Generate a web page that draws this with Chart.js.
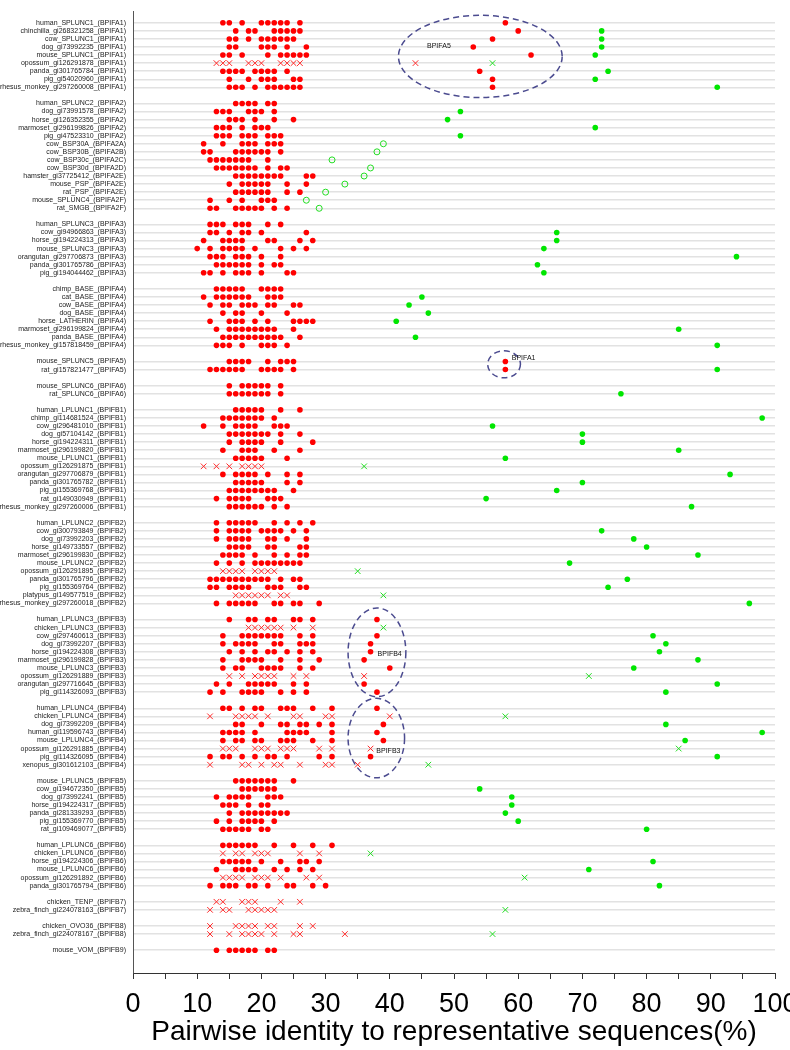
<!DOCTYPE html>
<html><head><meta charset="utf-8">
<script src="https://cdn.jsdelivr.net/npm/chart.js@4.4.1/dist/chart.umd.min.js"></script>
<style>html,body{margin:0;padding:0;background:#fff;}</style>
</head><body>
<canvas id="c" width="790" height="1050"></canvas>
<script>
// ---------- DATA ----------
const rowLabels = [
 'human_SPLUNC1_(BPIFA1)','chinchilla_gi268321258_(BPIFA1)','cow_SPLUNC1_(BPIFA1)','dog_gi73992235_(BPIFA1)','mouse_SPLUNC1_(BPIFA1)','opossum_gi126291878_(BPIFA1)','panda_gi301765784_(BPIFA1)','pig_gi54020960_(BPIFA1)','rhesus_monkey_gi297260008_(BPIFA1)',
 '',
 'human_SPLUNC2_(BPIFA2)','dog_gi73991578_(BPIFA2)','horse_gi126352355_(BPIFA2)','marmoset_gi296199826_(BPIFA2)','pig_gi47523310_(BPIFA2)','cow_BSP30A_(BPIFA2A)','cow_BSP30B_(BPIFA2B)','cow_BSP30c_(BPIFA2C)','cow_BSP30d_(BPIFA2D)','hamster_gi37725412_(BPIFA2E)','mouse_PSP_(BPIFA2E)','rat_PSP_(BPIFA2E)','mouse_SPLUNC4_(BPIFA2F)','rat_SMGB_(BPIFA2F)',
 '',
 'human_SPLUNC3_(BPIFA3)','cow_gi94966863_(BPIFA3)','horse_gi194224313_(BPIFA3)','mouse_SPLUNC3_(BPIFA3)','orangutan_gi297706873_(BPIFA3)','panda_gi301765786_(BPIFA3)','pig_gi194044462_(BPIFA3)',
 '',
 'chimp_BASE_(BPIFA4)','cat_BASE_(BPIFA4)','cow_BASE_(BPIFA4)','dog_BASE_(BPIFA4)','horse_LATHERIN_(BPIFA4)','marmoset_gi296199824_(BPIFA4)','panda_BASE_(BPIFA4)','rhesus_monkey_gi157818459_(BPIFA4)',
 '',
 'mouse_SPLUNC5_(BPIFA5)','rat_gi157821477_(BPIFA5)',
 '',
 'mouse_SPLUNC6_(BPIFA6)','rat_SPLUNC6_(BPIFA6)',
 '',
 'human_LPLUNC1_(BPIFB1)','chimp_gi114681524_(BPIFB1)','cow_gi296481010_(BPIFB1)','dog_gi57104142_(BPIFB1)','horse_gi194224311_(BPIFB1)','marmoset_gi296199820_(BPIFB1)','mouse_LPLUNC1_(BPIFB1)','opossum_gi126291875_(BPIFB1)','orangutan_gi297706879_(BPIFB1)','panda_gi301765782_(BPIFB1)','pig_gi155369768_(BPIFB1)','rat_gi149030949_(BPIFB1)','rhesus_monkey_gi297260006_(BPIFB1)',
 '',
 'human_LPLUNC2_(BPIFB2)','cow_gi300793849_(BPIFB2)','dog_gi73992203_(BPIFB2)','horse_gi149733557_(BPIFB2)','marmoset_gi296199830_(BPIFB2)','mouse_LPLUNC2_(BPIFB2)','opossum_gi126291895_(BPIFB2)','panda_gi301765796_(BPIFB2)','pig_gi155369764_(BPIFB2)','platypus_gi149577519_(BPIFB2)','rhesus_monkey_gi297260018_(BPIFB2)',
 '',
 'human_LPLUNC3_(BPIFB3)','chicken_LPLUNC3_(BPIFB3)','cow_gi297460613_(BPIFB3)','dog_gi73992207_(BPIFB3)','horse_gi194224308_(BPIFB3)','marmoset_gi296199828_(BPIFB3)','mouse_LPLUNC3_(BPIFB3)','opossum_gi126291889_(BPIFB3)','orangutan_gi297716645_(BPIFB3)','pig_gi114326093_(BPIFB3)',
 '',
 'human_LPLUNC4_(BPIFB4)','chicken_LPLUNC4_(BPIFB4)','dog_gi73992209_(BPIFB4)','human_gi119596743_(BPIFB4)','mouse_LPLUNC4_(BPIFB4)','opossum_gi126291885_(BPIFB4)','pig_gi114326095_(BPIFB4)','xenopus_gi301612103_(BPIFB4)',
 '',
 'mouse_LPLUNC5_(BPIFB5)','cow_gi194672350_(BPIFB5)','dog_gi73992241_(BPIFB5)','horse_gi194224317_(BPIFB5)','panda_gi281339293_(BPIFB5)','pig_gi155369770_(BPIFB5)','rat_gi109469077_(BPIFB5)',
 '',
 'human_LPLUNC6_(BPIFB6)','chicken_LPLUNC6_(BPIFB6)','horse_gi194224306_(BPIFB6)','mouse_LPLUNC6_(BPIFB6)','opossum_gi126291892_(BPIFB6)','panda_gi301765794_(BPIFB6)',
 '',
 'chicken_TENP_(BPIFB7)','zebra_finch_gi224078163_(BPIFB7)',
 '',
 'chicken_OVO36_(BPIFB8)','zebra_finch_gi224078167_(BPIFB8)',
 '',
 'mouse_VOM_(BPIFB9)'
];

// identities to the other representative sequences (red)
const redValues = [
 [14,15,17,20,21,22,23,24,26,58],[16,18,19,22,23,24,25,26,60],[15,16,18,20,21,22,23,24,25,56],[15,16,20,21,22,24,27,53],[14,15,17,21,23,24,25,26,27,62],[13,14,15,18,19,20,23,24,25,26,44],[14,15,16,17,19,20,21,22,24,54],[15,18,20,21,22,25,26,56],[15,16,17,19,21,22,23,24,25,26,56],
 [],
 [16,17,18,19,21,22],[13,14,15,18,19,20,22],[15,16,17,19,22,25],[13,14,15,17,19,20,21],[13,14,15,17,18,19,21,22,23],[11,14,17,18,19,21,22,23],[11,12,16,17,18,19,20,21,23],[12,13,14,15,16,17,18,21],[13,14,15,16,17,18,19,21,23,24],[16,17,18,19,20,21,22,23,27,28],[15,17,18,19,20,21,24,27],[16,17,18,19,20,21,24,26],[12,15,17,20,21,22],[12,13,16,17,18,19,20,22,24],
 [],
 [12,13,14,16,17,18,21,23],[12,13,15,17,18,20,27],[11,14,15,16,17,21,22,26,28],[10,12,14,15,16,17,19,23,25,27],[12,13,14,16,17,18,20,23],[13,14,15,16,17,18,20,22,23],[11,12,14,16,17,18,20,24,25],
 [],
 [13,14,15,16,17,20,21,22,23],[11,13,14,15,16,17,18,21,22,23],[12,14,15,17,18,19,21,22,25,26],[14,16,17,20,24],[12,15,16,17,19,21,25,26,27,28],[13,15,16,17,18,19,20,21,22,25],[14,15,16,17,18,19,20,21,22,23,26],[13,14,15,17,20,21,22,24],
 [],
 [15,16,17,18,21,23,24,25,58],[12,13,14,15,16,17,20,21,22,23,25,58],
 [],
 [15,17,18,19,20,21,23],[15,16,17,18,19,20,21,23],
 [],
 [16,17,18,19,20,23,26],[14,15,16,17,18,19,20,22],[11,14,16,17,18,19,22,23,24],[15,16,17,18,19,20,21,23,26],[15,17,18,19,20,23,28],[14,17,18,19,22,26],[16,17,18,19,20,24],[11,13,15,17,18,19,20],[14,16,17,18,19,21,24,26],[16,17,18,19,20,24,26],[15,16,17,18,19,20,21,22,25],[13,15,16,17,18,21,22,23],[15,16,17,18,19,20,22,24],
 [],
 [13,15,16,17,18,19,22,24,26,28],[13,15,16,17,18,20,21,22,23,25,27],[13,15,16,17,18,21,22,24,27],[15,16,17,18,21,22,26,27],[14,15,16,17,19,22,24,26,27],[13,15,17,19,20,21,22,23,24,25,26],[14,15,16,17,19,20,21,22],[12,13,14,15,16,17,18,19,20,21,23,25,26],[12,13,15,16,17,18,21,22,23,26,27],[16,17,18,19,20,21,23,24],[13,15,16,17,18,19,22,23,25,26,29],
 [],
 [15,18,19,21,22,25,26,28,38],[18,19,20,21,22,23,25,28],[14,17,18,19,20,21,22,23,26,28,38],[14,16,17,18,19,22,23,26,27,28,37],[15,17,19,21,22,24,26,28,37],[14,17,18,19,20,23,26,29,36],[14,16,17,20,21,22,23,26,28,40],[15,17,19,20,21,22,25,27,36],[13,15,18,19,20,21,22,25,27,36],[12,14,17,18,19,20,23,25,27,38],
 [],
 [14,15,17,19,20,23,24,25,28,31,38],[12,16,17,18,19,21,25,26,30,31,40],[16,17,20,23,24,26,27,29,31,39],[14,15,16,17,19,24,25,26,27,31,38],[14,16,17,19,20,23,24,25,28,31,39],[14,15,16,19,20,21,23,24,25,29,31,37],[12,14,15,17,19,21,22,24,29,31,37],[12,17,18,20,22,23,26,30,31,35],
 [],
 [16,17,18,19,20,21,22,25],[17,18,19,20,21,22],[13,15,16,17,18,21,22,23],[14,15,16,18,20,21],[15,17,18,19,20,21,22,23,24],[13,15,17,18,19,20,22],[14,15,16,17,18,20,21],
 [],
 [14,15,16,17,18,19,22,25,28,31],[14,16,17,19,20,21,26,29],[14,15,16,17,18,20,23,26,27,29],[13,16,17,18,19,22,24,26,28],[14,15,16,17,19,20,21,23,27,29],[12,14,15,16,18,19,21,24,25,28,30],
 [],
 [13,14,17,18,19,23,26],[12,14,15,18,19,20,21,22],
 [],
 [12,16,17,18,19,21,22,26,28],[12,15,17,18,19,20,22,25,26,33],
 [],
 [13,15,16,17,18,19,21,22]
];

// identity to the own representative sequence (green)
const greenValues = [
 null,73,73,73,72,56,74,72,91,
 null,
 null,51,49,72,51,39,38,31,37,36,33,30,27,29,
 null,
 null,66,66,64,94,63,64,
 null,
 null,45,43,46,41,85,44,91,
 null,
 null,91,
 null,
 null,76,
 null,
 null,98,56,70,70,85,58,36,93,70,66,55,87,
 null,
 null,73,78,80,88,68,35,77,74,39,96,
 null,
 null,39,81,83,82,88,78,71,91,83,
 null,
 null,58,83,98,86,85,91,46,
 null,
 null,54,59,59,58,60,80,
 null,
 null,37,81,71,61,82,
 null,
 null,58,
 null,
 null,56,
 null,
 null
];

// partial sequences (drawn as crosses)
const crossRows = ['opossum_gi126291878_(BPIFA1)','opossum_gi126291875_(BPIFB1)','opossum_gi126291895_(BPIFB2)','platypus_gi149577519_(BPIFB2)','chicken_LPLUNC3_(BPIFB3)','opossum_gi126291889_(BPIFB3)','chicken_LPLUNC4_(BPIFB4)','opossum_gi126291885_(BPIFB4)','xenopus_gi301612103_(BPIFB4)','chicken_LPLUNC6_(BPIFB6)','opossum_gi126291892_(BPIFB6)','chicken_TENP_(BPIFB7)','zebra_finch_gi224078163_(BPIFB7)','chicken_OVO36_(BPIFB8)','zebra_finch_gi224078167_(BPIFB8)'];
// sub-family members (open green circles)
const ringRows = ['cow_BSP30A_(BPIFA2A)','cow_BSP30B_(BPIFA2B)','cow_BSP30c_(BPIFA2C)','cow_BSP30d_(BPIFA2D)','hamster_gi37725412_(BPIFA2E)','mouse_PSP_(BPIFA2E)','rat_PSP_(BPIFA2E)','mouse_SPLUNC4_(BPIFA2F)','rat_SMGB_(BPIFA2F)'];

const xTickLabels = ['0','10','20','30','40','50','60','70','80','90','100'];
const axisTitle = 'Pairwise identity to representative sequences(%)';

// dashed ellipse annotations (data coordinates: x = identity, y = row)
const annotations = [
 {cx:54.1, cy:4.17, rx:12.75, ry:5.1, label:'BPIFA5', lx:45.8, ly:2.85},
 {cx:57.8, cy:42.35, rx:2.55, ry:1.68, label:'BPIFA1', lx:59, ly:41.6},
 {cx:38.0, cy:78.07, rx:4.5, ry:5.5, label:'BPIFB4', lx:38.1, ly:78.3},
 {cx:37.9, cy:88.7, rx:4.4, ry:4.93, label:'BPIFB3', lx:37.9, ly:90.35}
];

// ---------- BUILD ----------
const redDot=[], redCross=[], greenDot=[], greenCross=[], greenRing=[];
rowLabels.forEach((lab,i)=>{
  if(!lab) return;
  const isCross = crossRows.includes(lab);
  redValues[i].forEach(v => (isCross?redCross:redDot).push({x:v,y:i}));
  const g = greenValues[i];
  if (g!=null){
    if (isCross) greenCross.push({x:g,y:i});
    else if (ringRows.includes(lab)) greenRing.push({x:g,y:i});
    else greenDot.push({x:g,y:i});
  }
});

const FONT = "'Liberation Sans', Arial, Helvetica, sans-serif";

const ellipsePlugin = {
  id:'ellipses',
  afterDatasetsDraw(chart){
    const {ctx, scales:{x,y}} = chart;
    ctx.save();
    ctx.strokeStyle = '#4b4b8f'; ctx.lineWidth = 1.5; ctx.setLineDash([6,4]);
    annotations.forEach(a=>{
      const cx = x.getPixelForValue(a.cx), cy = y.getPixelForValue(a.cy);
      const rx = Math.abs(x.getPixelForValue(a.cx+a.rx)-cx);
      const ry = Math.abs(y.getPixelForValue(a.cy+a.ry)-cy);
      ctx.beginPath(); ctx.ellipse(cx,cy,rx,ry,0,0,Math.PI*2); ctx.stroke();
    });
    ctx.setLineDash([]);
    ctx.fillStyle = '#111'; ctx.font = '7px ' + FONT;
    ctx.textBaseline = 'middle'; ctx.textAlign = 'left';
    annotations.forEach(a=> ctx.fillText(a.label, x.getPixelForValue(a.lx), y.getPixelForValue(a.ly)));
    ctx.restore();
  }
};

new Chart(document.getElementById('c'), {
  type:'scatter',
  data:{datasets:[
    {data:redDot, pointStyle:'circle', pointRadius:2.8, backgroundColor:'#ff0000', borderWidth:0},
    {data:redCross, pointStyle:'crossRot', pointRadius:4, borderColor:'#ff2a2a', backgroundColor:'#ff2a2a', borderWidth:1},
    {data:greenDot, pointStyle:'circle', pointRadius:2.8, backgroundColor:'#00e600', borderWidth:0},
    {data:greenCross, pointStyle:'crossRot', pointRadius:4, borderColor:'#22dd22', backgroundColor:'#22dd22', borderWidth:1},
    {data:greenRing, pointStyle:'circle', pointRadius:3, backgroundColor:'rgba(0,0,0,0)', borderColor:'#22dd22', borderWidth:1}
  ]},
  options:{
    responsive:false, animation:false, devicePixelRatio:1, events:[],
    layout:{padding:{top:5,right:15,bottom:0,left:0}},
    plugins:{legend:{display:false}, tooltip:{enabled:false}},
    scales:{
      x:{type:'linear', position:'bottom', min:0, max:100,
        afterFit(s){ s.height = 77; s.paddingLeft = 0; s.paddingRight = 0; },
        afterBuildTicks(s){ const t=[]; for(let v=0; v<=100; v+=5) t.push({value:v}); s.ticks=t; },
        ticks:{autoSkip:false, maxRotation:0, minRotation:0, padding:9, color:'#000',
          font:{family:FONT, size:27},
          callback:(v)=> (v%10===0 ? xTickLabels[v/10] : '')},
        grid:{drawOnChartArea:false, drawTicks:true, tickLength:6, color:'#333', lineWidth:1},
        border:{display:true, color:'#333', width:1},
        title:{display:true, text:axisTitle, color:'#000', font:{family:FONT, size:28}, padding:{top:0,bottom:1}}
      },
      y:{type:'linear', reverse:true, min:-1.44, max:117.83,
        afterFit(s){ s.width = 133; },
        afterBuildTicks(s){ s.ticks = rowLabels.map((l,i)=>({value:i})); },
        ticks:{autoSkip:false, padding:7, color:'#222', font:{family:FONT, size:7},
          callback:(v)=> rowLabels[v] || ''},
        grid:{drawTicks:false, lineWidth:1.5,
          color:(c)=> (c.tick && rowLabels[c.tick.value]) ? '#e2e2e2' : 'rgba(0,0,0,0)'},
        border:{display:true, color:'#555', width:1}
      }
    }
  },
  plugins:[ellipsePlugin]
});
</script>
</body></html>
